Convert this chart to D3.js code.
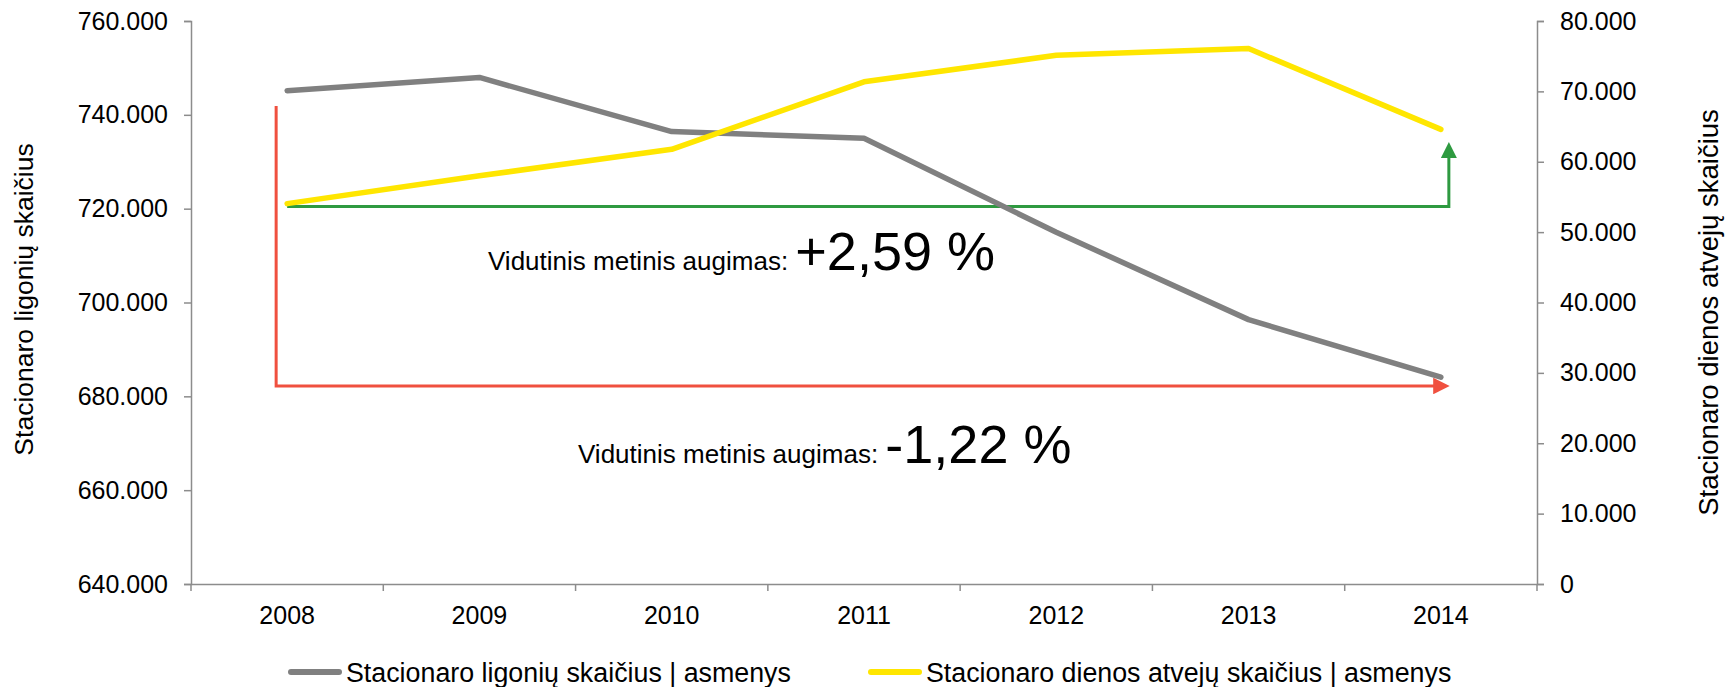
<!DOCTYPE html>
<html>
<head>
<meta charset="utf-8">
<script src="https://cdn.jsdelivr.net/npm/d3@7"></script>
<style>
  body { margin: 0; background: #fff; }
  text { font-family: "Liberation Sans", Arial, sans-serif; fill: #000; }
</style>
</head>
<body>
<div id="chart"></div>
<script>
const years = ["2008", "2009", "2010", "2011", "2012", "2013", "2014"];
const patients = [745150, 747970, 736430, 735000, 714970, 696350, 684070];
const dayCases = [54050, 58000, 61770, 71360, 75120, 76080, 64600];
const leftTicks = [640000, 660000, 680000, 700000, 720000, 740000, 760000];
const rightTicks = [0, 10000, 20000, 30000, 40000, 50000, 60000, 70000, 80000];
const seriesNames = ["Stacionaro ligonių skaičius | asmenys", "Stacionaro dienos atvejų skaičius | asmenys"];
const growthLabels = ["+2,59 %", "-1,22 %"];

const W = 1733, H = 687;
const margin = { top: 21, right: 196, bottom: 103, left: 191 },
    width = W - margin.left - margin.right,
    height = H - margin.top - margin.bottom;

const fmt = d => d === 0 ? "0" : d3.format(",")(d).replace(/,/g, ".");

const svg = d3.select("#chart")
    .append("svg")
    .attr("width", W)
    .attr("height", H)
    .append("g")
    .attr("transform", `translate(${margin.left},${margin.top})`);

const x = d3.scaleBand().domain(years).range([0, width]);
const cx = d => x(d) + x.bandwidth() / 2;
const yL = d3.scaleLinear().domain([640000, 760000]).range([height, 0]);
const yR = d3.scaleLinear().domain([0, 80000]).range([height, 0]);

const axisColor = "#8c8c8c";
function styleAxis(g) {
  g.selectAll(".domain, .tick line").attr("stroke", axisColor).attr("stroke-width", 1.5);
  g.selectAll("text").style("font-size", "25px").attr("fill", "#000");
}

// axes
svg.append("g")
    .call(d3.axisLeft(yL).tickValues(leftTicks).tickFormat(fmt).tickSize(7).tickPadding(16).tickSizeOuter(7))
    .call(styleAxis);

svg.append("g")
    .attr("transform", `translate(${width},0)`)
    .call(d3.axisRight(yR).tickValues(rightTicks).tickFormat(fmt).tickSize(7).tickPadding(16).tickSizeOuter(7))
    .call(styleAxis);

const xAxis = svg.append("g")
    .attr("transform", `translate(0,${height})`)
    .call(d3.axisBottom(x).tickSize(0).tickPadding(22))
    .call(styleAxis);
// ticks on band edges
xAxis.selectAll(".edge")
    .data(years.concat(["end"]))
    .join("line")
    .attr("x1", (d, i) => i * x.bandwidth())
    .attr("x2", (d, i) => i * x.bandwidth())
    .attr("y1", 0).attr("y2", 7)
    .attr("stroke", axisColor).attr("stroke-width", 1.5);

// axis titles
svg.append("text")
    .attr("transform", `translate(${-margin.left + 33},${height / 2 - 3}) rotate(-90)`)
    .attr("text-anchor", "middle")
    .style("font-size", "26.5px")
    .text("Stacionaro ligonių skaičius");

svg.append("text")
    .attr("transform", `translate(${width + 181},${height / 2 + 10}) rotate(-90)`)
    .attr("text-anchor", "middle")
    .style("font-size", "27.5px")
    .text("Stacionaro dienos atvejų skaičius");

// arrow markers
const defs = svg.append("defs");
[["redArrow", "#f0503f"], ["greenArrow", "#2e9a40"]].forEach(([id, c]) => {
  defs.append("marker")
      .attr("id", id)
      .attr("viewBox", "0 0 10 10")
      .attr("refX", 1).attr("refY", 5)
      .attr("markerWidth", 5.5).attr("markerHeight", 5.5)
      .attr("markerUnits", "strokeWidth")
      .attr("orient", "auto")
      .append("path")
      .attr("d", "M0,0L10,5L0,10z")
      .attr("fill", c);
});

// red annotation (left axis)
svg.append("path")
    .attr("d", `M${cx("2008") - 11},${yL(741900)}V${yL(682200)}H${cx("2014") - 6}`)
    .attr("fill", "none")
    .attr("stroke", "#f0503f")
    .attr("stroke-width", 3)
    .attr("marker-end", "url(#redArrow)");

// green annotation (right axis)
svg.append("path")
    .attr("d", `M${cx("2008")},${yR(53650)}H${cx("2014") + 8}V${yR(60700)}`)
    .attr("fill", "none")
    .attr("stroke", "#2e9a40")
    .attr("stroke-width", 3)
    .attr("marker-end", "url(#greenArrow)");

// series lines
const lineL = d3.line().x((d, i) => cx(years[i])).y(d => yL(d));
const lineR = d3.line().x((d, i) => cx(years[i])).y(d => yR(d));

svg.append("path")
    .datum(patients)
    .attr("d", lineL)
    .attr("fill", "none")
    .attr("stroke", "#808080")
    .attr("stroke-width", 5.5)
    .attr("stroke-linecap", "round")
    .attr("stroke-linejoin", "round");

svg.append("path")
    .datum(dayCases)
    .attr("d", lineR)
    .attr("fill", "none")
    .attr("stroke", "#ffe600")
    .attr("stroke-width", 5.5)
    .attr("stroke-linecap", "round")
    .attr("stroke-linejoin", "round");

// growth labels
const growth = [
  { x: 488, y: 270, label: growthLabels[0] },
  { x: 578, y: 463, label: growthLabels[1] }
];
growth.forEach(g => {
  const t = svg.append("text")
      .attr("x", g.x - margin.left)
      .attr("y", g.y - margin.top)
      .style("font-size", "26px");
  t.append("tspan").text("Vidutinis metinis augimas: ");
  t.append("tspan").style("font-size", "54px").text(g.label);
});

// legend
const legend = svg.append("g")
    .attr("transform", `translate(0,${672 - margin.top})`);
const legendItems = [
  { x: 288, color: "#808080", name: seriesNames[0] },
  { x: 868, color: "#ffe600", name: seriesNames[1] }
];
legendItems.forEach(d => {
  legend.append("line")
      .attr("x1", d.x - margin.left + 3).attr("x2", d.x - margin.left + 51)
      .attr("y1", 0).attr("y2", 0)
      .attr("stroke", d.color)
      .attr("stroke-width", 6)
      .attr("stroke-linecap", "round");
  legend.append("text")
      .attr("x", d.x - margin.left + 58)
      .attr("y", 9.5)
      .style("font-size", "26.8px")
      .text(d.name);
});
</script>
</body>
</html>
